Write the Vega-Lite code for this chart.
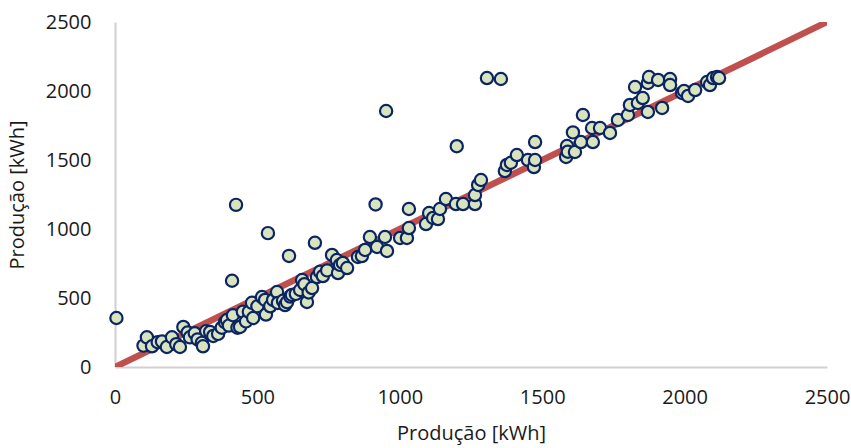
{
  "$schema": "https://vega.github.io/schema/vega-lite/v6.json",
  "autosize": {"type": "none"},
  "width": 712,
  "height": 345,
  "padding": {"left": 115, "top": 22, "right": 24, "bottom": 81},
  "background": "white",
  "config": {
    "view": {"stroke": null},
    "font": "Open Sans",
    "axis": {
      "grid": false,
      "ticks": false,
      "domainColor": "#D0D0D0",
      "domainWidth": 2,
      "labelFont": "Open Sans",
      "labelFontSize": 20,
      "labelColor": "#1a1a1a",
      "titleFont": "Open Sans",
      "titleFontSize": 20,
      "titleFontWeight": "normal",
      "titleColor": "#1a1a1a"
    }
  },
  "layer": [
    {
      "data": {"values": [{"a": 0, "b": 0}, {"a": 2500, "b": 2500}]},
      "mark": {"type": "line", "color": "#C0504D", "strokeWidth": 6.5, "strokeCap": "butt", "clip": true},
      "encoding": {
        "x": {"field": "a", "type": "quantitative"},
        "y": {"field": "b", "type": "quantitative"}
      }
    },
    {
      "data": {
        "values": [
          {"real": 5, "prev": 355}, {"real": 100, "prev": 155}, {"real": 112, "prev": 215}, {"real": 130, "prev": 150},
          {"real": 150, "prev": 180}, {"real": 165, "prev": 185}, {"real": 182, "prev": 145}, {"real": 200, "prev": 215},
          {"real": 215, "prev": 165}, {"real": 228, "prev": 145}, {"real": 240, "prev": 290}, {"real": 255, "prev": 250},
          {"real": 263, "prev": 215}, {"real": 280, "prev": 245}, {"real": 290, "prev": 200}, {"real": 305, "prev": 175},
          {"real": 309, "prev": 150}, {"real": 320, "prev": 260}, {"real": 334, "prev": 254}, {"real": 345, "prev": 225},
          {"real": 362, "prev": 240}, {"real": 375, "prev": 285}, {"real": 386, "prev": 325}, {"real": 393, "prev": 340},
          {"real": 400, "prev": 300}, {"real": 411, "prev": 625}, {"real": 414, "prev": 375}, {"real": 425, "prev": 1175},
          {"real": 430, "prev": 285}, {"real": 439, "prev": 290}, {"real": 449, "prev": 400}, {"real": 460, "prev": 330},
          {"real": 470, "prev": 400}, {"real": 481, "prev": 465}, {"real": 485, "prev": 355}, {"real": 500, "prev": 440},
          {"real": 516, "prev": 507}, {"real": 527, "prev": 486}, {"real": 530, "prev": 380}, {"real": 537, "prev": 970},
          {"real": 545, "prev": 440}, {"real": 555, "prev": 486}, {"real": 569, "prev": 543}, {"real": 572, "prev": 464},
          {"real": 590, "prev": 480}, {"real": 597, "prev": 449}, {"real": 604, "prev": 470}, {"real": 611, "prev": 805},
          {"real": 615, "prev": 510}, {"real": 621, "prev": 522}, {"real": 635, "prev": 530}, {"real": 650, "prev": 558},
          {"real": 657, "prev": 630}, {"real": 665, "prev": 600}, {"real": 674, "prev": 471}, {"real": 680, "prev": 540},
          {"real": 692, "prev": 572}, {"real": 702, "prev": 900}, {"real": 709, "prev": 652}, {"real": 720, "prev": 690},
          {"real": 730, "prev": 659}, {"real": 745, "prev": 700}, {"real": 762, "prev": 812}, {"real": 779, "prev": 775},
          {"real": 783, "prev": 681}, {"real": 790, "prev": 740}, {"real": 800, "prev": 754}, {"real": 815, "prev": 717},
          {"real": 853, "prev": 797}, {"real": 867, "prev": 804}, {"real": 878, "prev": 848}, {"real": 895, "prev": 942},
          {"real": 915, "prev": 1178}, {"real": 920, "prev": 870}, {"real": 948, "prev": 942}, {"real": 952, "prev": 1855},
          {"real": 955, "prev": 841}, {"real": 1001, "prev": 935}, {"real": 1025, "prev": 935}, {"real": 1032, "prev": 1007},
          {"real": 1032, "prev": 1145}, {"real": 1092, "prev": 1036}, {"real": 1103, "prev": 1116}, {"real": 1117, "prev": 1080},
          {"real": 1134, "prev": 1072}, {"real": 1141, "prev": 1145}, {"real": 1162, "prev": 1217}, {"real": 1197, "prev": 1181},
          {"real": 1200, "prev": 1600}, {"real": 1222, "prev": 1181}, {"real": 1264, "prev": 1181}, {"real": 1264, "prev": 1246},
          {"real": 1275, "prev": 1319}, {"real": 1285, "prev": 1355}, {"real": 1306, "prev": 2094}, {"real": 1355, "prev": 2087},
          {"real": 1369, "prev": 1420}, {"real": 1376, "prev": 1464}, {"real": 1390, "prev": 1480}, {"real": 1411, "prev": 1536},
          {"real": 1450, "prev": 1500}, {"real": 1471, "prev": 1449}, {"real": 1475, "prev": 1500}, {"real": 1475, "prev": 1630},
          {"real": 1584, "prev": 1522}, {"real": 1587, "prev": 1601}, {"real": 1590, "prev": 1560}, {"real": 1608, "prev": 1700},
          {"real": 1615, "prev": 1558}, {"real": 1636, "prev": 1630}, {"real": 1643, "prev": 1826}, {"real": 1675, "prev": 1732},
          {"real": 1678, "prev": 1630}, {"real": 1703, "prev": 1732}, {"real": 1738, "prev": 1696}, {"real": 1766, "prev": 1790},
          {"real": 1801, "prev": 1826}, {"real": 1808, "prev": 1899}, {"real": 1826, "prev": 2029}, {"real": 1836, "prev": 1913},
          {"real": 1853, "prev": 1949}, {"real": 1871, "prev": 1848}, {"real": 1871, "prev": 2058}, {"real": 1875, "prev": 2101},
          {"real": 1907, "prev": 2080}, {"real": 1921, "prev": 1877}, {"real": 1949, "prev": 2087}, {"real": 1949, "prev": 2043},
          {"real": 1991, "prev": 1986}, {"real": 1998, "prev": 2000}, {"real": 2012, "prev": 1964}, {"real": 2037, "prev": 2007},
          {"real": 2079, "prev": 2065}, {"real": 2089, "prev": 2043}, {"real": 2100, "prev": 2094}, {"real": 2114, "prev": 2101},
          {"real": 2121, "prev": 2094}
        ]
      },
      "mark": {"type": "point", "filled": false, "fill": "#D7E4BD", "fillOpacity": 1, "stroke": "#0B2463", "strokeWidth": 2.2, "opacity": 1, "size": 150},
      "encoding": {
        "x": {
          "field": "real", "type": "quantitative",
          "scale": {"domain": [0, 2500], "nice": false},
          "axis": {"values": [0, 500, 1000, 1500, 2000, 2500], "format": "d", "labelPadding": 20, "title": "Produção [kWh]", "titlePadding": 16, "labelFlush": false}
        },
        "y": {
          "field": "prev", "type": "quantitative",
          "scale": {"domain": [0, 2500], "nice": false},
          "axis": {"values": [0, 500, 1000, 1500, 2000, 2500], "format": "d", "labelPadding": 24, "title": "Produção [kWh]", "titlePadding": 18, "labelFlush": false}
        }
      }
    }
  ]
}
